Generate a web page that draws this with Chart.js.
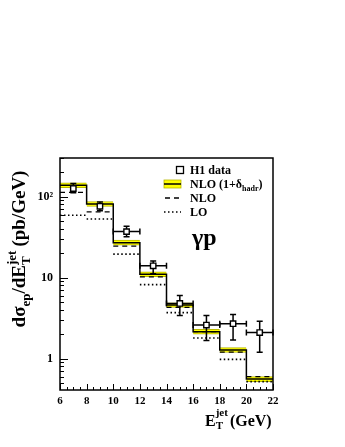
<!DOCTYPE html>
<html>
<head>
<meta charset="utf-8">
<script src="https://cdn.jsdelivr.net/npm/chart.js@4.4.1/dist/chart.umd.min.js"></script>
<style>
html, body { margin: 0; padding: 0; background: #fff; }
#wrap { width: 345px; height: 447px; }
</style>
</head>
<body>
<div id="wrap"><canvas id="c"></canvas></div>
<script>
// E_T bins (GeV)
var binLo = [6, 8, 10, 12, 14, 16, 18, 20];
var binHi = [8, 10, 12, 14, 16, 18, 20, 22];
var binMid = [7, 9, 11, 13, 15, 17, 19, 21];
// NLO (1+delta_hadr) central value and its band (pb/GeV)
var nloHad = [138, 81, 27, 11, 4.6, 2.15, 1.28, 0.56];
var nloHadLo = [129, 75.5, 25.2, 10.3, 4.3, 2.0, 1.19, 0.52];
var nloHadHi = [148, 87, 29, 11.8, 4.9, 2.3, 1.37, 0.6];
// pure NLO and LO
var nlo = [113, 65, 24.5, 10.2, 4.3, 2.15, 1.2, 0.6];
var lo = [59, 53, 19.5, 8.2, 3.7, 1.8, 0.98, 0.52];
// H1 data with errors
var h1 = [126, 76, 37, 14, 4.8, 2.6, 2.7, 2.1];
var h1ErrLo = [112, 67, 32, 11.2, 3.4, 1.67, 1.7, 1.2];
var h1ErrHi = [145, 86, 43, 16, 6.0, 3.4, 3.5, 2.9];
var h1XErr = [0, 0, 1, 1, 1, 1, 1, 1];
// axis ticks
var xTicks = [6, 8, 10, 12, 14, 16, 18, 20, 22];
var yTicks = [1, 10, 100];

var SERIF = '"Liberation Serif", "Times New Roman", serif';

function stepPoints(vals) {
    var pts = [];
    for (var i = 0; i < vals.length; i++) {
        pts.push({x: binLo[i], y: vals[i]});
        pts.push({x: binHi[i], y: vals[i]});
    }
    return pts;
}
// horizontal pieces only, broken at bin edges
function brokenPoints(vals) {
    var pts = [];
    for (var i = 0; i < vals.length; i++) {
        pts.push({x: binLo[i], y: vals[i]});
        pts.push({x: binHi[i], y: vals[i]});
        pts.push({x: binHi[i], y: null});
    }
    return pts;
}

// draws pieces of text with sub/superscripts, returns width
function drawPieces(ctx, pieces, x, y, measureOnly) {
    var cx = x;
    for (var i = 0; i < pieces.length; i++) {
        var p = pieces[i];
        if (p.stack) {
            var w = 0;
            for (var k = 0; k < p.stack.length; k++) {
                var s = p.stack[k];
                ctx.font = s.font;
                if (!measureOnly) ctx.fillText(s.t, cx, y + s.dy);
                w = Math.max(w, ctx.measureText(s.t).width);
            }
            cx += w + (p.gap || 0);
        } else {
            ctx.font = p.font;
            if (!measureOnly) ctx.fillText(p.t, cx, y + (p.dy || 0));
            cx += ctx.measureText(p.t).width;
        }
    }
    return cx - x;
}

var framePlugin = {
    id: 'frame',
    beforeDatasetDraw: function (chart, args) {
        if (args.meta.label !== 'H1 data') return;
        var ctx = chart.ctx, xs = chart.scales.x, ys = chart.scales.y;
        ctx.save();
        ctx.strokeStyle = '#000';
        ctx.lineWidth = 1.5;
        for (var i = 0; i < h1.length; i++) {
            var px = xs.getPixelForValue(binMid[i]);
            var py = ys.getPixelForValue(h1[i]);
            var pLo = ys.getPixelForValue(h1ErrLo[i]);
            var pHi = ys.getPixelForValue(h1ErrHi[i]);
            ctx.beginPath();
            ctx.moveTo(px, pLo); ctx.lineTo(px, pHi);
            ctx.moveTo(px - 3, pLo); ctx.lineTo(px + 3, pLo);
            ctx.moveTo(px - 3, pHi); ctx.lineTo(px + 3, pHi);
            if (h1XErr[i] > 0) {
                var xl = xs.getPixelForValue(binMid[i] - h1XErr[i]);
                var xr = xs.getPixelForValue(binMid[i] + h1XErr[i]);
                ctx.moveTo(xl, py); ctx.lineTo(xr, py);
                ctx.moveTo(xl, py - 3); ctx.lineTo(xl, py + 3);
                ctx.moveTo(xr, py - 3); ctx.lineTo(xr, py + 3);
            }
            ctx.stroke();
        }
        ctx.restore();
    },
    afterDraw: function (chart) {
        var ctx = chart.ctx, a = chart.chartArea;
        var xs = chart.scales.x, ys = chart.scales.y;
        ctx.save();
        ctx.strokeStyle = '#000';
        ctx.lineWidth = 1.5;
        ctx.strokeRect(a.left, a.top, a.right - a.left, a.bottom - a.top);

        // inward ticks
        ctx.lineWidth = 1;
        ctx.beginPath();
        for (var v = 6; v <= 22.001; v += 0.5) {
            var px = Math.round(xs.getPixelForValue(v)) + 0.5;
            var len = (Math.abs(v % 2) < 0.001) ? 6 : 3;
            ctx.moveTo(px, a.bottom); ctx.lineTo(px, a.bottom - len);
        }
        for (var d = 0.1; d <= 1000; d *= 10) {
            for (var m = 1; m <= 9; m++) {
                var val = d * m;
                if (val < ys.min || val > ys.max) continue;
                var py = Math.round(ys.getPixelForValue(val)) + 0.5;
                var l = m === 1 ? 8 : 4;
                ctx.moveTo(a.left, py); ctx.lineTo(a.left + l, py);
            }
        }
        ctx.stroke();

        ctx.fillStyle = '#000';
        ctx.textBaseline = 'alphabetic';

        // y title
        var big = 'bold 19px ' + SERIF, small = 'bold 13px ' + SERIF;
        var yPieces = [
            {t: 'd\u03c3', font: big},
            {t: 'ep', font: small, dy: 5},
            {t: '/dE', font: big},
            {stack: [{t: 'T', font: small, dy: 5}, {t: 'jet', font: small, dy: -9}], gap: 4},
            {t: '(pb/GeV)', font: big}
        ];
        ctx.save();
        ctx.translate(25, 249);
        ctx.rotate(-Math.PI / 2);
        var w = drawPieces(ctx, yPieces, 0, 0, true);
        drawPieces(ctx, yPieces, -w / 2, 0, false);
        ctx.restore();

        // x title
        var xPieces = [
            {t: 'E', font: 'bold 16px ' + SERIF},
            {stack: [{t: 'T', font: 'bold 11px ' + SERIF, dy: 3}, {t: 'jet', font: 'bold 11px ' + SERIF, dy: -10}], gap: 2},
            {t: '(GeV)', font: 'bold 16px ' + SERIF}
        ];
        drawPieces(ctx, xPieces, 205, 426, false);

        // legend
        var lx = 190;
        var rows = [170, 184, 198, 212];
        ctx.font = 'bold 12px ' + SERIF;
        ctx.fillText('H1 data', lx, rows[0] + 4);
        drawPieces(ctx, [
            {t: 'NLO (1+\u03b4', font: 'bold 12px ' + SERIF},
            {t: 'hadr', font: 'bold 8px ' + SERIF, dy: 3},
            {t: ')', font: 'bold 12px ' + SERIF}
        ], lx, rows[1] + 4, false);
        ctx.font = 'bold 12px ' + SERIF;
        ctx.fillText('NLO', lx, rows[2] + 4);
        ctx.fillText('LO', lx, rows[3] + 4);

        ctx.fillStyle = '#fff';
        ctx.lineWidth = 1.3;
        ctx.fillRect(176.5, rows[0] - 3.5, 7, 7);
        ctx.strokeRect(176.5, rows[0] - 3.5, 7, 7);

        ctx.fillStyle = '#ffff00';
        ctx.fillRect(164, rows[1] - 4, 17, 8);
        ctx.strokeStyle = '#b8b800';
        ctx.lineWidth = 0.8;
        ctx.strokeRect(164, rows[1] - 4, 17, 8);
        ctx.strokeStyle = '#000';
        ctx.lineWidth = 1.5;
        ctx.beginPath();
        ctx.moveTo(164, rows[1]); ctx.lineTo(181, rows[1]);
        ctx.stroke();

        ctx.setLineDash([5, 4]);
        ctx.beginPath();
        ctx.moveTo(165, rows[2]); ctx.lineTo(181, rows[2]);
        ctx.stroke();
        ctx.setLineDash([1.5, 2.5]);
        ctx.beginPath();
        ctx.moveTo(164, rows[3]); ctx.lineTo(181, rows[3]);
        ctx.stroke();
        ctx.setLineDash([]);

        ctx.fillStyle = '#000';
        ctx.font = 'bold 24px ' + SERIF;
        ctx.fillText('\u03b3p', 192, 245);
        ctx.restore();
    }
};

var chart = new Chart(document.getElementById('c'), {
    type: 'line',
    data: {
        datasets: [{
            type: 'bar',
            label: 'NLO band',
            data: binMid.map(function (m, i) { return {x: m, y: [nloHadLo[i], nloHadHi[i]]}; }),
            backgroundColor: '#ffff00',
            borderColor: '#b8b800',
            borderWidth: {top: 1, bottom: 1, left: 0, right: 0},
            borderSkipped: false,
            barPercentage: 1,
            categoryPercentage: 1,
            order: 5
        }, {
            label: 'LO',
            data: brokenPoints(lo),
            borderColor: '#000',
            borderWidth: 1.6,
            borderDash: [1.5, 2.5],
            pointRadius: 0,
            spanGaps: false,
            order: 4
        }, {
            label: 'NLO',
            data: brokenPoints(nlo),
            borderColor: '#000',
            borderWidth: 1.3,
            borderDash: [5, 4],
            pointRadius: 0,
            spanGaps: false,
            order: 3
        }, {
            label: 'NLO (1+delta)',
            data: stepPoints(nloHad),
            borderColor: '#000',
            borderWidth: 1.5,
            pointRadius: 0,
            order: 2
        }, {
            label: 'H1 data',
            data: binMid.map(function (m, i) { return {x: m, y: h1[i]}; }),
            showLine: false,
            pointStyle: 'rect',
            pointRadius: 3.8,
            pointBackgroundColor: '#fff',
            pointBorderColor: '#000',
            pointBorderWidth: 1.4,
            order: 1
        }]
    },
    options: {
        responsive: true,
        maintainAspectRatio: false,
        animation: false,
        events: [],
        layout: {padding: {top: 158, right: 72, left: 0, bottom: 0}},
        plugins: {legend: {display: false}, tooltip: {enabled: false}},
        scales: {
            x: {
                type: 'linear',
                min: 6,
                max: 22,
                offset: false,
                grid: {display: false, drawTicks: false},
                border: {display: false},
                afterBuildTicks: function (s) { s.ticks = xTicks.map(function (v) { return {value: v}; }); },
                afterFit: function (s) { s.height = 57; },
                ticks: {
                    color: '#000',
                    padding: 5,
                    maxRotation: 0,
                    font: {family: SERIF, weight: 'bold', size: 11}
                }
            },
            y: {
                type: 'logarithmic',
                min: 0.41,
                max: 300,
                grid: {display: false, drawTicks: false},
                border: {display: false},
                afterBuildTicks: function (s) { s.ticks = yTicks.map(function (v) { return {value: v}; }); },
                afterFit: function (s) { s.width = 60; },
                ticks: {
                    color: '#000',
                    padding: 7,
                    font: {family: SERIF, weight: 'bold', size: 12},
                    callback: function (v) { return v === 100 ? '10\u00b2' : String(v); }
                }
            }
        }
    },
    plugins: [framePlugin]
});
</script>
</body>
</html>
